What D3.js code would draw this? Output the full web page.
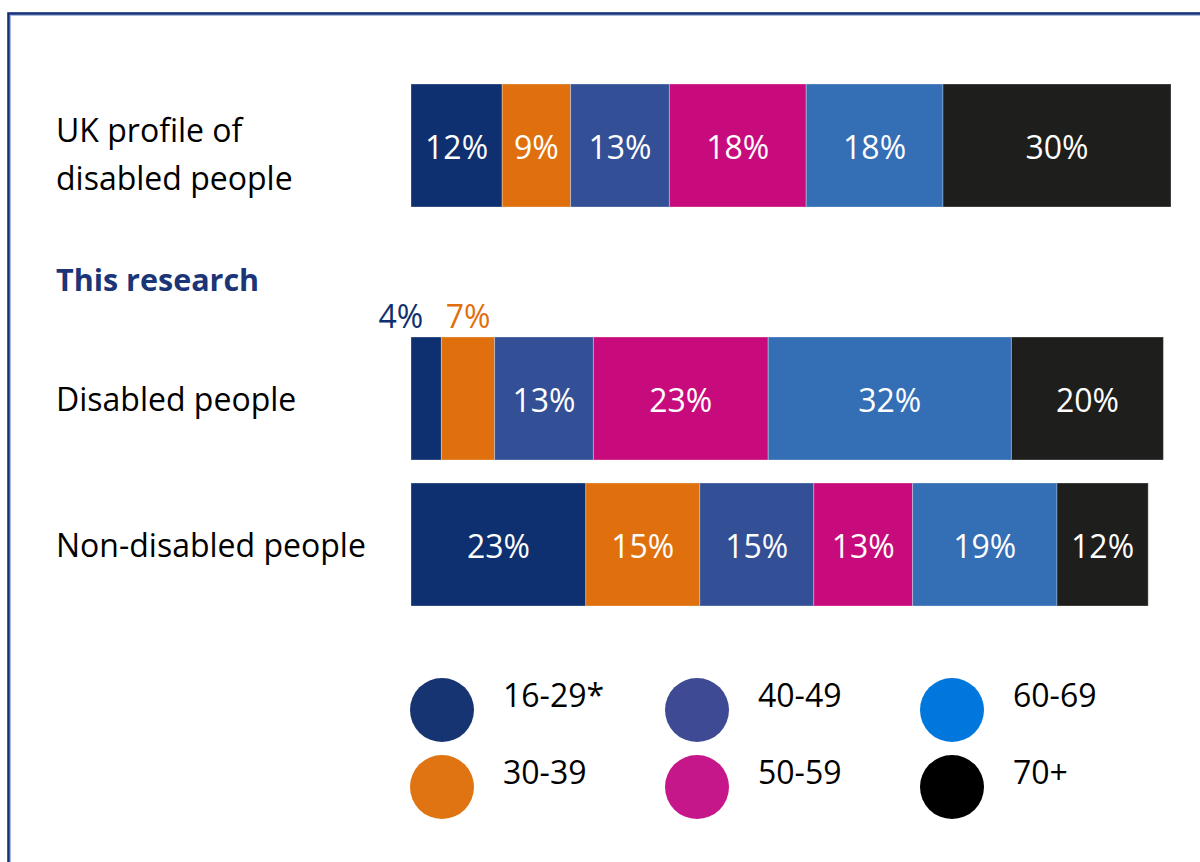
<!DOCTYPE html>
<html>
<head>
<meta charset="utf-8">
<script src="https://cdn.jsdelivr.net/npm/d3@7"></script>
<style>
  html, body { margin: 0; padding: 0; background: #fff; }
  svg { display: block; }
  text { font-family: "Open Sans", "Noto Sans", sans-serif; }
</style>
</head>
<body>
<svg id="chart" width="1200" height="862"></svg>
<script>
// Age profile of disabled and non-disabled people (percent of each group)
const ageBands = ["16-29*", "30-39", "40-49", "50-59", "60-69", "70+"];
const ukProfile = [12, 9, 13, 18, 18, 30];
const disabledPeople = [4, 7, 13, 23, 32, 20];
const nonDisabledPeople = [23, 15, 15, 13, 19, 12];
const groupLabels = ["UK profile of disabled people", "Disabled people", "Non-disabled people"];
const sectionHeading = "This research";

// Bar fills and legend swatch fills for each age band
const barColors = ["#0e3070", "#e0700e", "#334f95", "#c80b7c", "#346eb4", "#1e1e1c"];
const swatchColors = ["#163372", "#e07412", "#3f4a95", "#c5178a", "#0077dd", "#000000"];

const svg = d3.select("#chart");
const W = 1200, H = 862;

// frame
svg.append("rect")
  .attr("x", 8.5).attr("y", 13.5).attr("width", W + 20).attr("height", H + 20)
  .attr("fill", "none").attr("stroke", "#15317a").attr("stroke-width", 2.6);
svg.append("rect")
  .attr("x", 10.5).attr("y", 15.5).attr("width", W + 20).attr("height", H + 20)
  .attr("fill", "none").attr("stroke", "#a9bade").attr("stroke-width", 1);

const x = d3.scaleLinear().domain([0, 100]).range([411, 1171]);

// the UK row sits on its own; the two research rows share a band scale
const rows = [
  { label: groupLabels[0], values: ukProfile },
  { label: groupLabels[1], values: disabledPeople },
  { label: groupLabels[2], values: nonDisabledPeople }
];
const yResearch = d3.scaleBand().domain([groupLabels[1], groupLabels[2]])
  .range([337, 606]).paddingInner(23 / 146).paddingOuter(0);
const barH = yResearch.bandwidth();
const rowTop = label => label === groupLabels[0] ? 84 : yResearch(label);

const fs = 32;

rows.forEach(row => {
  const top = rowTop(row.label);
  const cum = d3.cumsum(row.values);
  const segs = row.values.map((v, i) => ({ v, i, x0: cum[i] - v, x1: cum[i] }));
  const g = svg.append("g");

  g.selectAll("rect").data(segs).join("rect")
    .attr("x", d => x(d.x0)).attr("y", top)
    .attr("width", d => x(d.x1) - x(d.x0)).attr("height", barH)
    .attr("fill", d => barColors[d.i])
    .attr("stroke", "rgba(255,255,255,0.3)").attr("stroke-width", 1);

  // values too small for the bar are written above it, in the band colour
  const inside = segs.filter(d => d.v >= 8);
  const outside = segs.filter(d => d.v < 8);

  g.selectAll("text.in").data(inside).join("text")
    .attr("class", "in")
    .attr("x", d => (x(d.x0) + x(d.x1)) / 2).attr("y", top + barH / 2 + 13)
    .attr("text-anchor", "middle").attr("fill", "#fff").attr("font-size", fs)
    .text(d => d.v + "%");

  g.selectAll("text.out").data(outside).join("text")
    .attr("class", "out")
    .attr("x", (d, k) => {
      const c = (x(d.x0) + x(d.x1)) / 2;
      return k < outside.length - 1 ? c - 3 : c;
    })
    .attr("text-anchor", (d, k) => k < outside.length - 1 ? "end" : "middle")
    .attr("y", top - 9)
    .attr("fill", d => barColors[d.i]).attr("font-size", fs)
    .text(d => d.v + "%");
});

// group labels
const labelX = 56;
svg.append("text").attr("x", labelX).attr("y", 142).attr("font-size", fs).attr("fill", "#000")
  .selectAll("tspan").data(["UK profile of", "disabled people"]).join("tspan")
  .attr("x", labelX).attr("dy", (d, i) => i ? 48 : 0).text(d => d);

svg.append("text").attr("x", labelX).attr("y", 291).attr("font-size", 30.5)
  .attr("font-weight", "bold").attr("fill", "#1b3577").text(sectionHeading);

[groupLabels[1], groupLabels[2]].forEach(l => {
  svg.append("text").attr("x", labelX).attr("y", yResearch(l) + barH / 2 + 12)
    .attr("font-size", fs).attr("fill", "#000").text(l);
});

// legend: three columns of two
const legCol = d3.scaleLinear().domain([0, 1]).range([442, 697]);
const legRow = d3.scaleLinear().domain([0, 1]).range([710, 787]);
const legend = svg.append("g").selectAll("g").data(ageBands).join("g")
  .attr("transform", (d, i) => `translate(${legCol(Math.floor(i / 2))},${legRow(i % 2)})`);
legend.append("circle").attr("r", 32).attr("fill", (d, i) => swatchColors[i]);
legend.append("text").attr("x", 61).attr("y", -3).attr("font-size", fs).attr("fill", "#000")
  .text(d => d);
</script>
</body>
</html>
